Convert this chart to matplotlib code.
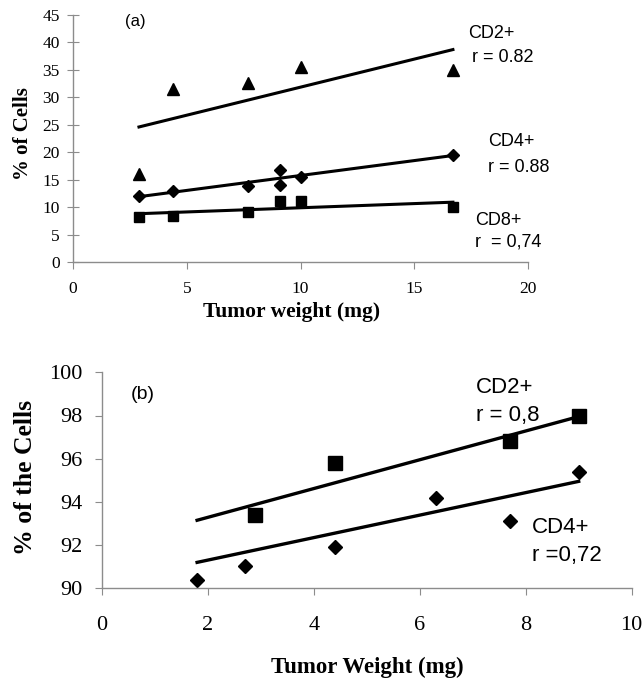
"""Tumour weight vs. lymphocyte subsets: two stacked scatter panels with trend lines."""
import matplotlib
matplotlib.use("Agg")
import matplotlib.pyplot as plt

# panel (a)
a_cd2_x = [2.9, 4.4, 7.7, 10.0, 16.7]
a_cd2_y = [16.0, 31.6, 32.6, 35.5, 35.0]
a_cd4_x = [2.9, 4.4, 7.7, 9.1, 9.1, 10.0, 16.7]
a_cd4_y = [12.1, 12.9, 13.8, 16.8, 14.1, 15.5, 19.5]
a_cd8_x = [2.9, 4.4, 7.7, 9.1, 10.0, 16.7]
a_cd8_y = [8.2, 8.4, 9.2, 11.1, 11.1, 10.0]
a_fit_x = [2.9, 16.7]
a_cd2_fit = [24.6, 38.7]
a_cd4_fit = [11.9, 19.4]
a_cd8_fit = [8.8, 10.9]

# panel (b)
b_cd2_x = [2.9, 4.4, 7.7, 9.0]
b_cd2_y = [93.4, 95.8, 96.8, 98.0]
b_cd4_x = [1.8, 2.7, 4.4, 6.3, 7.7, 9.0]
b_cd4_y = [90.4, 91.05, 91.9, 94.2, 93.1, 95.4]
b_fit_x = [1.8, 9.0]
b_cd2_fit = [93.15, 97.95]
b_cd4_fit = [91.2, 94.95]

SERIF = "Liberation Serif"
SANS = "Liberation Sans"
GREY = "#8c8c8c"


def style_axes(ax, size, ydir, ylen, xpad, ypad):
    for s in ("top", "right"):
        ax.spines[s].set_visible(False)
    for s in ("left", "bottom"):
        ax.spines[s].set_color(GREY)
        ax.spines[s].set_linewidth(1.0)
    ax.tick_params(axis="x", direction="out", length=5, color=GREY,
                   labelsize=size, pad=xpad)
    ax.tick_params(axis="y", direction=ydir, length=ylen, color=GREY,
                   labelsize=size, pad=ypad)
    for lab in ax.get_xticklabels() + ax.get_yticklabels():
        lab.set_fontfamily(SERIF)


fig = plt.figure(figsize=(6.44, 6.79), dpi=100)
W, H = 644, 679

# --- (a)
ax1 = fig.add_axes([73 / W, 1 - 262 / H, (528 - 73) / W, (262 - 15) / H])
ax1.plot(a_fit_x, a_cd2_fit, color="black", lw=2.2)
ax1.plot(a_fit_x, a_cd4_fit, color="black", lw=2.2)
ax1.plot(a_fit_x, a_cd8_fit, color="black", lw=2.2)
ax1.plot(a_cd2_x, a_cd2_y, ls="none", marker="^", ms=8, color="black")
ax1.plot(a_cd4_x, a_cd4_y, ls="none", marker="D", ms=6, color="black")
ax1.plot(a_cd8_x, a_cd8_y, ls="none", marker="s", ms=7.5, color="black")
ax1.set_xlim(0, 20)
ax1.set_ylim(0, 45)
ax1.set_xticks([0, 5, 10, 15, 20])
ax1.set_yticks(range(0, 46, 5))
style_axes(ax1, 12.5, "inout", 9, 9, 5)
ax1.set_xlabel("Tumor weight (mg)", fontsize=15.5, fontweight="bold",
               family=SERIF)
ax1.xaxis.set_label_coords(0.481, -0.16)
ax1.set_ylabel("% of Cells", fontsize=15, fontweight="bold", family=SERIF)
ax1.yaxis.set_label_coords(-0.087, 0.52)
ax1.text(2.3, 43.9, "(a)", fontsize=12, family=SANS, va="center")
tk = dict(fontsize=13, family=SANS, va="center", clip_on=False)
ax1.text(17.35, 41.7, "CD2+", **tk)
ax1.text(17.55, 37.3, "r = 0.82", **tk)
ax1.text(18.24, 21.9, "CD4+", **tk)
ax1.text(18.24, 17.3, "r = 0.88", **tk)
ax1.text(17.67, 7.65, "CD8+", **tk)
ax1.text(17.67, 3.6, "r  = 0,74", **tk)

# --- (b)
ax2 = fig.add_axes([101.7 / W, 1 - 588.3 / H, 530 / W, 216 / H])
ax2.plot(b_fit_x, b_cd2_fit, color="black", lw=2.4)
ax2.plot(b_fit_x, b_cd4_fit, color="black", lw=2.4)
ax2.plot(b_cd2_x, b_cd2_y, ls="none", marker="s", ms=10, color="black")
ax2.plot(b_cd4_x, b_cd4_y, ls="none", marker="D", ms=7, color="black")
ax2.set_xlim(0, 10)
ax2.set_ylim(90, 100)
ax2.set_xticks([0, 2, 4, 6, 8, 10])
ax2.set_yticks([90, 92, 94, 96, 98, 100])
style_axes(ax2, 16, "out", 5, 15, 9)
ax2.set_xlabel("Tumor Weight (mg)", fontsize=16.5, fontweight="bold",
               family=SERIF)
ax2.xaxis.set_label_coords(0.5015, -0.315)
ax2.set_ylabel("% of the Cells", fontsize=18.5, fontweight="bold",
               family=SERIF)
ax2.yaxis.set_label_coords(-0.122, 0.515)
ax2.text(0.55, 98.95, "(b)", fontsize=14, family=SANS, va="center")
tk = dict(fontsize=16, family=SANS, va="center", clip_on=False)
ax2.text(7.06, 99.28, "CD2+", **tk)
ax2.text(7.06, 97.99, "r = 0,8", **tk)
ax2.text(8.12, 92.81, "CD4+", **tk)
ax2.text(8.12, 91.52, "r =0,72", **tk)

fig.savefig("out.png", dpi=100)
